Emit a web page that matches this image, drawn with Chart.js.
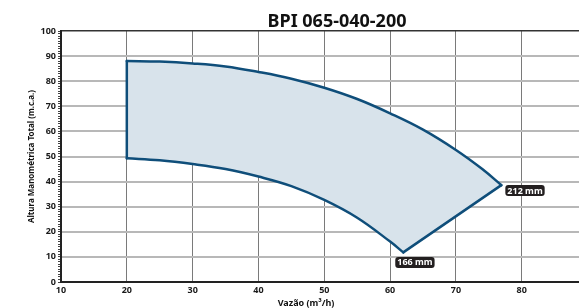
<!DOCTYPE html>
<html>
<head>
<meta charset="utf-8">
<script src="https://cdn.jsdelivr.net/npm/chart.js@4.4.1/dist/chart.umd.min.js"></script>
<style>
  html, body { margin: 0; padding: 0; background: #fff; }
  canvas { display: block; }
</style>
</head>
<body>
<canvas id="pump-chart" width="579" height="308"></canvas>
<script>
// curve for the 212 mm impeller (top)
var flowUpper = [20, 25, 30, 35, 40, 45, 50, 55, 60, 65, 70, 74, 76.9];
var headUpper = [88.0, 87.8, 87.1, 85.9, 83.7, 81.0, 77.4, 72.9, 67.2, 60.7, 52.6, 45.0, 38.6];

// curve for the 166 mm impeller (bottom)
var flowLower = [20, 25, 30, 35, 40, 45, 50, 55, 60, 62];
var headLower = [49.3, 48.5, 47.0, 45.0, 42.0, 38.2, 32.7, 25.6, 16.1, 11.8];

var curveLabels = ['212 mm', '166 mm'];
var xTicks = [10, 20, 30, 40, 50, 60, 70, 80];
var yTicks = [0, 10, 20, 30, 40, 50, 60, 70, 80, 90, 100];

var blue = '#0f4e7a';
var font = "'Noto Sans', 'DejaVu Sans', sans-serif";

function pts(xs, ys) {
    return xs.map(function (x, i) { return { x: x, y: ys[i] }; });
}

var upper = pts(flowUpper, headUpper);
var lower = pts(flowLower, headLower);
var lastU = upper[upper.length - 1];
var lastL = lower[lower.length - 1];

// closed outline used only for the shaded area
var outline = upper.concat(lower.slice().reverse());

var line = {
    showLine: true,
    fill: false,
    order: 0,
    borderColor: blue,
    borderWidth: 2.5,
    pointRadius: 0,
    borderCapStyle: 'round',
    borderJoinStyle: 'round'
};

var extras = {
    id: 'extras',
    beforeDraw: function (chart) {
        var c = chart.ctx;
        c.save();
        c.fillStyle = '#fff';
        c.fillRect(0, 0, chart.width, chart.height);
        c.restore();
    },
    afterDatasetsDraw: function (chart) {
        var c = chart.ctx, sx = chart.scales.x, sy = chart.scales.y;
        c.save();
        c.font = 'bold 9px ' + font;
        c.textBaseline = 'middle';
        var tags = [
            { p: lastU, dx: 4, dy: 0, text: curveLabels[0] },
            { p: lastL, dx: -8, dy: 4.5, text: curveLabels[1] }
        ];
        tags.forEach(function (t) {
            var px = sx.getPixelForValue(t.p.x) + t.dx;
            var py = sy.getPixelForValue(t.p.y) + t.dy;
            var w = c.measureText(t.text).width + 4;
            c.fillStyle = '#231f20';
            c.beginPath();
            c.roundRect(px, py, w, 11, 3);
            c.fill();
            c.fillStyle = '#fff';
            c.textAlign = 'left';
            c.fillText(t.text, px + 2, py + 6);
        });

        // chart title and x axis title
        c.fillStyle = '#111';
        c.textAlign = 'center';
        c.textBaseline = 'alphabetic';
        c.font = 'bold 18px ' + font;
        c.fillText('BPI 065-040-200', 337, 27);
        c.font = 'bold 9px ' + font;
        c.fillText('Vazão (m³/h)', 306, 306);
        c.restore();
    }
};

new Chart(document.getElementById('pump-chart'), {
    type: 'scatter',
    data: {
        datasets: [
            {
                data: outline,
                showLine: true,
                fill: 'shape',
                order: 5,
                backgroundColor: '#d8e3eb',
                borderWidth: 0,
                pointRadius: 0,
                tension: 0
            },
            Object.assign({ data: upper, tension: 0.4 }, line),
            Object.assign({ data: lower, tension: 0.4 }, line),
            Object.assign({ data: [upper[0], lower[0]] }, line),
            Object.assign({ data: [lastL, lastU] }, line)
        ]
    },
    options: {
        responsive: false,
        animation: false,
        devicePixelRatio: 1,
        layout: { padding: { top: 31, left: 0, right: 0, bottom: 0 } },
        plugins: {
            legend: { display: false },
            tooltip: { enabled: false },
            title: { display: false }
        },
        scales: {
            x: {
                type: 'linear',
                min: 10,
                max: 88.7,
                afterBuildTicks: function (scale) {
                    scale.ticks = xTicks.map(function (v) { return { value: v }; });
                },
                afterFit: function (scale) { scale.height = 26; },
                ticks: {
                    color: '#1a1a1a',
                    font: { family: font, size: 9, weight: 'bold' },
                    padding: 3
                },
                grid: { color: '#7a7a7a', lineWidth: 1, drawTicks: false },
                border: { color: '#222', width: 2 }
            },
            y: {
                min: 0,
                max: 100,
                weight: 1,
                afterBuildTicks: function (scale) {
                    scale.ticks = yTicks.map(function (v) { return { value: v }; });
                },
                afterFit: function (scale) { scale.width = 61; },
                ticks: {
                    color: '#1a1a1a',
                    font: { family: font, size: 9, weight: 'bold' },
                    padding: 5
                },
                grid: {
                    drawTicks: false,
                    color: function (ctx) { return ctx.tick && ctx.tick.value === 100 ? '#333' : '#b8b8b8'; },
                    lineWidth: function (ctx) { return ctx.tick && ctx.tick.value === 100 ? 1.5 : 2; }
                },
                border: { color: '#222', width: 2 },
                title: {
                    display: true,
                    text: 'Altura Manométrica Total (m.c.a.)',
                    color: '#111',
                    font: { family: font, size: 8, weight: 'bold' },
                    padding: { top: 27, bottom: 0 }
                }
            },
            yMinor: {
                position: 'left',
                min: 0,
                max: 100,
                weight: 0,
                afterFit: function (scale) { scale.width = 0; },
                ticks: { display: false, stepSize: 1 },
                grid: { drawOnChartArea: false, tickLength: 3, color: '#444', lineWidth: 1 },
                border: { display: false }
            }
        }
    },
    plugins: [extras]
});
</script>
</body>
</html>
